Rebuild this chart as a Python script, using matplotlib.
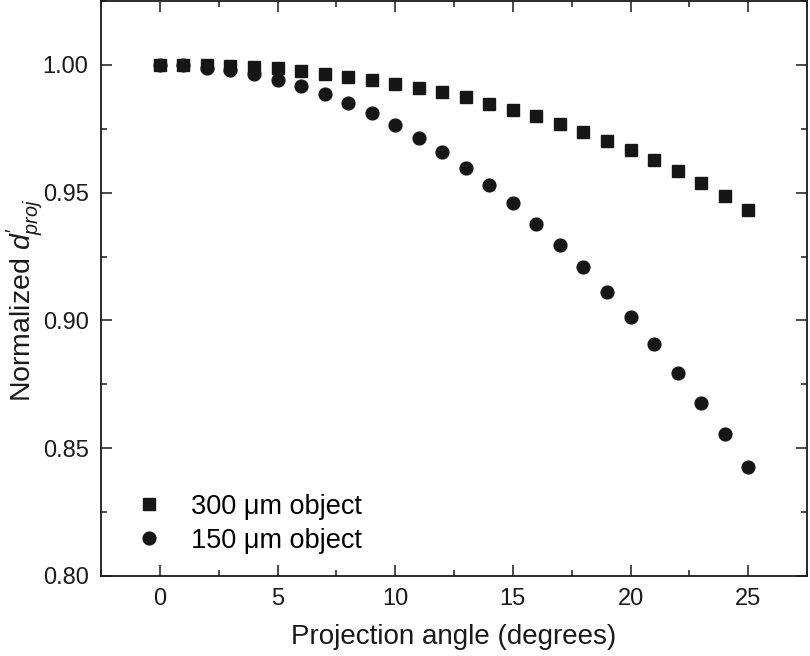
#importing the relevant modules
import matplotlib
matplotlib.use("Agg")
import matplotlib.pyplot as plt
from matplotlib.ticker import MultipleLocator

#font setup (Arial-like)
plt.rcParams['font.family'] = ['Liberation Sans', 'DejaVu Sans']
plt.rcParams['mathtext.fontset'] = 'custom'
plt.rcParams['mathtext.rm'] = 'Liberation Sans'
plt.rcParams['mathtext.it'] = 'Liberation Sans:italic'

#data
angles = list(range(0, 26))
obj_300 = [1.0000, 1.0000, 0.9998, 0.9996, 0.9992, 0.9986, 0.9977, 0.9966, 0.9954, 0.9939,
           0.9926, 0.9909, 0.9895, 0.9874, 0.9848, 0.9824, 0.9799, 0.9770, 0.9738, 0.9704,
           0.9667, 0.9627, 0.9585, 0.9538, 0.9487, 0.9434]
obj_150 = [1.0000, 0.9998, 0.9988, 0.9978, 0.9965, 0.9941, 0.9918, 0.9887, 0.9852, 0.9811,
           0.9765, 0.9714, 0.9659, 0.9598, 0.9531, 0.9458, 0.9379, 0.9297, 0.9208, 0.9113,
           0.9012, 0.8907, 0.8795, 0.8676, 0.8555, 0.8425]
labels = ["300 \u03bcm object", "150 \u03bcm object"]

#figure and axes placement
fig = plt.figure(figsize=(8.1, 6.56), dpi=100)
ax = fig.add_axes([0.1247, 0.122, 0.8716, 0.8765])

mcol = '#161616'
ax.plot(angles, obj_300, linestyle='none', marker='s', markersize=8.8,
        color=mcol, label=labels[0])
ax.plot(angles, obj_150, linestyle='none', marker='o', markersize=9.2,
        color=mcol, label=labels[1])

#axis limits and ticks
ax.set_xlim(-2.5, 27.5)
ax.set_ylim(0.80, 1.025)
ax.xaxis.set_major_locator(MultipleLocator(5))
ax.xaxis.set_minor_locator(MultipleLocator(2.5))
ax.yaxis.set_major_locator(MultipleLocator(0.05))
ax.yaxis.set_minor_locator(MultipleLocator(0.025))
ax.yaxis.set_major_formatter(plt.FormatStrFormatter('%.2f'))
ax.tick_params(which='both', direction='in', top=True, right=True, width=1.1,
               colors='#1a1a1a', labelsize=17)
ax.tick_params(which='major', length=8, pad=9)
ax.tick_params(which='minor', length=4)
for sp in ax.spines.values():
    sp.set_linewidth(1.3)
    sp.set_color('#1a1a1a')

#axis labels
ax.set_xlabel('Projection angle (degrees)', fontsize=20, labelpad=10, color='#1a1a1a')
ax.set_ylabel(r"Normalized $d^{\prime}_{proj}$", fontsize=20.5, color='#1a1a1a')
ax.yaxis.set_label_coords(-0.08, 0.48)

#legend
ax.legend(loc='lower left', bbox_to_anchor=(0.026, 0.02), frameon=False,
          fontsize=19.5, handlelength=1.4, handletextpad=0.85, labelspacing=0.3,
          borderaxespad=0.0)

fig.savefig('out.png', dpi=100)
